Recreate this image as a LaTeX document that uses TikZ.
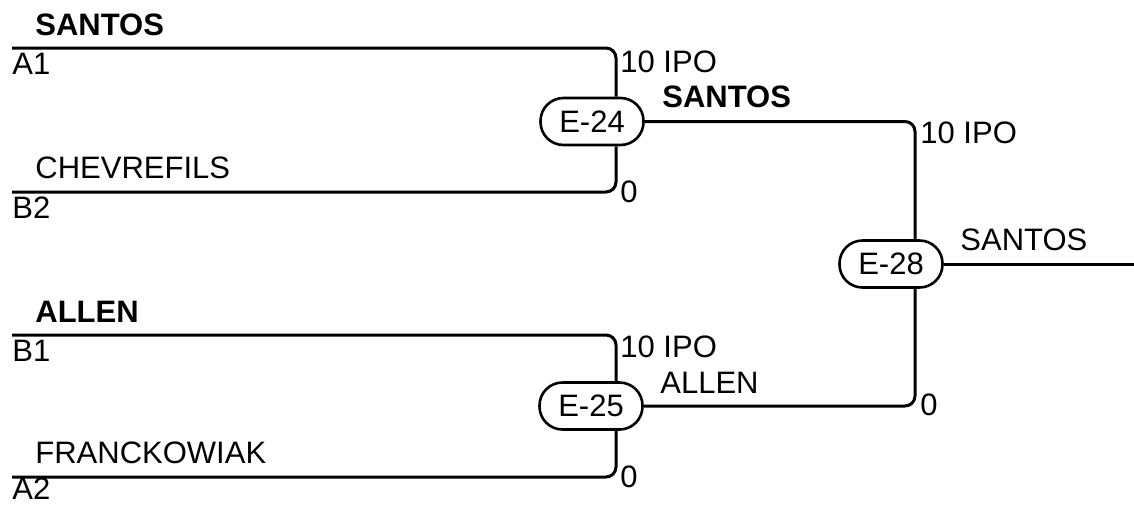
\documentclass[tikz,border=0pt]{standalone}
\usepackage{fontspec}
\setmainfont{Liberation Sans}
\begin{document}
\begin{tikzpicture}[x=0.5pt,y=-0.5pt,
  line/.style={line width=1.5pt, rounded corners=5pt},
  match/.style={draw, line width=1.3pt, rectangle, rounded corners=11.5pt, minimum width=51.5pt, minimum height=23.5pt, inner sep=0pt, font=\fontsize{15.5}{18}\selectfont},
  lbl/.style={anchor=base west, inner sep=0pt, font=\fontsize{15.5}{18}\selectfont},
  bold/.style={lbl, font=\fontsize{15.5}{18}\selectfont\bfseries}]
\useasboundingbox (0,0) rectangle (1134,504);
\node[match] (e24) at (592,121.5) {E-24};
\node[match] (e25) at (591,406) {E-25};
\node[match] (e28) at (891,264) {E-28};
\coordinate (v24) at (616,0);
\coordinate (v28) at (915,0);
\coordinate (a1) at (12,48);
\coordinate (b2) at (12,192);
\coordinate (b1) at (12,335);
\coordinate (a2) at (12,477);
\coordinate (out) at (1134,264);
\draw[line] (a1) -| (e24.north -| v24);
\draw[line] (b2) -| (e24.south -| v24);
\draw[line] (b1) -| (e25.north -| v24);
\draw[line] (a2) -| (e25.south -| v24);
\draw[line] (e24.east) -| (e28.north -| v28);
\draw[line] (e25.east) -| (e28.south -| v28);
\draw[line] (e28.east) -- (out);
\node[bold] (t1) at (35,35) {SANTOS};
\node[lbl] (t2) at (12,74) {A1};
\node[lbl] (t3) at (35,178) {CHEVREFILS};
\node[lbl] (t4) at (12,218) {B2};
\node[bold] (t5) at (35,322) {ALLEN};
\node[lbl] (t6) at (12,361) {B1};
\node[lbl] (t7) at (35,463) {FRANCKOWIAK};
\node[lbl] (t8) at (12,499) {A2};
\node[lbl] (s24a) at (620,72) {10 IPO};
\node[lbl] (s24b) at (620,202) {0};
\node[bold] (w24) at (662,107) {SANTOS};
\node[lbl] (s25a) at (620,357) {10 IPO};
\node[lbl] (s25b) at (620,487) {0};
\node[lbl] (w25) at (660,393) {ALLEN};
\node[lbl] (s28a) at (920,143) {10 IPO};
\node[lbl] (s28b) at (920,415) {0};
\node[lbl] (w28) at (960,250) {SANTOS};
\end{tikzpicture}
\end{document}
